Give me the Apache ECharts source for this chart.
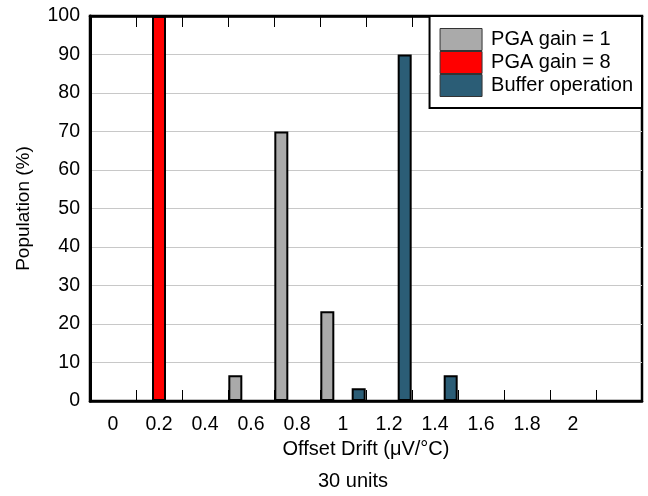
<!DOCTYPE html>
<html>
<head>
<meta charset="utf-8">
<script src="https://cdn.jsdelivr.net/npm/echarts@6/dist/echarts.min.js"></script>
<style>
html,body{margin:0;padding:0;background:#fff;}
#chart{width:648px;height:496px;}
</style>
</head>
<body>
<div id="chart"></div>
<script>
// Bins of offset drift (µV/°C)
var categories = ['0','0.2','0.4','0.6','0.8','1','1.2','1.4','1.6','1.8','2','2.2'];
var tickLabels = ['0','0.2','0.4','0.6','0.8','1','1.2','1.4','1.6','1.8','2',''];
// Population (%) per bin, 30 units
var pgaGain1 = [0, 0, 0, 6.67, 70, 23.33, 0, 0, 0, 0, 0, 0];
var pgaGain8 = [0, 100, 0, 0, 0, 0, 0, 0, 0, 0, 0, 0];
var bufferOp = [0, 0, 0, 0, 0, 3.33, 90, 6.67, 0, 0, 0, 0];
var seriesNames = ['PGA gain = 1', 'PGA gain = 8', 'Buffer operation'];
var seriesColors = ['#aaaaaa', '#ff0000', '#2b5d76'];
var yTicks = {min: 0, max: 100, interval: 10};

var FONT = 'Liberation Sans, Arial, sans-serif';
var chart = echarts.init(document.getElementById('chart'), null, {renderer: 'canvas'});

function barSeries(name, data, color) {
  return {
    name: name,
    type: 'bar',
    data: data,
    barWidth: 14,
    barGap: '12%',
    itemStyle: {color: color, borderColor: '#000', borderWidth: 2},
    emphasis: {disabled: true}
  };
}

chart.setOption({
  animation: false,
  backgroundColor: '#fff',
  textStyle: {fontFamily: FONT},
  grid: {
    left: 90, right: 6, top: 16, bottom: 95,
    show: true, borderColor: '#000', borderWidth: 2.5, backgroundColor: 'transparent'
  },
  legend: {
    orient: 'vertical',
    right: 6, top: 16,
    itemWidth: 42, itemHeight: 22, itemGap: 0,
    padding: [12, 9, 11, 10],
    borderColor: '#000', borderWidth: 2,
    backgroundColor: '#fff',
    icon: 'rect',
    itemStyle: {borderColor: '#333', borderWidth: 1},
    textStyle: {fontFamily: FONT, fontSize: 20, color: '#000', padding: [0, 0, 0, 4]},
    data: seriesNames
  },
  xAxis: [{
    type: 'category',
    data: categories,
    position: 'bottom',
    axisLine: {show: true, lineStyle: {color: '#000', width: 2.5}},
    axisTick: {show: true, inside: true, length: 11, lineStyle: {color: '#000', width: 1}},
    axisLabel: {
      color: '#000', fontFamily: FONT, fontSize: 19.5, margin: 14,
      formatter: function (v, i) { return tickLabels[i]; }
    },
    splitLine: {show: false},
    name: 'Offset Drift (\u03bcV/\u00b0C)',
    nameLocation: 'middle',
    nameGap: 35,
    nameTextStyle: {color: '#000', fontFamily: FONT, fontSize: 20}
  }, {
    type: 'category',
    data: categories,
    position: 'top',
    axisLine: {show: true, lineStyle: {color: '#000', width: 2.5}},
    axisTick: {show: true, inside: true, length: 11, lineStyle: {color: '#000', width: 1}},
    axisLabel: {show: false},
    splitLine: {show: false}
  }],
  yAxis: [{
    type: 'value',
    min: yTicks.min, max: yTicks.max, interval: yTicks.interval,
    axisLine: {show: true, lineStyle: {color: '#000', width: 3}},
    axisTick: {show: false},
    axisLabel: {color: '#000', fontFamily: FONT, fontSize: 19.5, margin: 10},
    splitLine: {show: true, lineStyle: {color: '#c8c8c8', width: 1}},
    name: 'Population (%)',
    nameLocation: 'middle',
    nameGap: 57,
    nameTextStyle: {color: '#000', fontFamily: FONT, fontSize: 19}
  }],
  graphic: [{
    type: 'text',
    x: 353, y: 481,
    style: {
      text: '30 units',
      font: '20px ' + FONT,
      fill: '#000',
      textAlign: 'center',
      textVerticalAlign: 'middle'
    }
  }],
  series: [
    barSeries(seriesNames[0], pgaGain1, seriesColors[0]),
    barSeries(seriesNames[1], pgaGain8, seriesColors[1]),
    barSeries(seriesNames[2], bufferOp, seriesColors[2])
  ]
});
</script>
</body>
</html>
